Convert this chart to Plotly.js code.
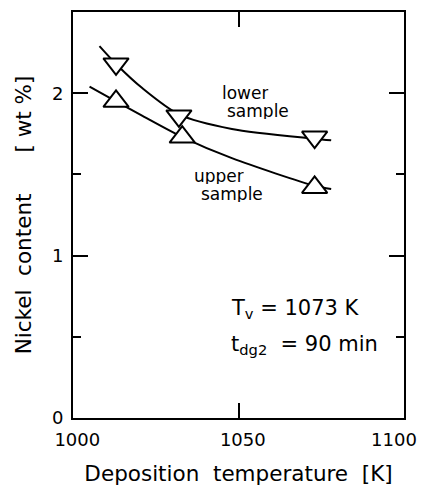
<!DOCTYPE html>
<html>
<head>
<meta charset="utf-8">
<script src="https://cdn.plot.ly/plotly-3.0.1.min.js"></script>
<style>html,body{margin:0;padding:0;background:#fff;}#chart{width:424px;height:486px;}</style>
</head>
<body>
<div id="chart"></div>
<script>
// Measured points
const lowerX = [1013, 1032, 1073];
const lowerY = [2.18, 1.86, 1.73];
const upperX = [1013, 1033, 1073];
const upperY = [1.95, 1.73, 1.42];
// Drawn fitted curves
const lowerCurveX = [1008, 1013, 1021, 1032, 1048, 1073, 1078];
const lowerCurveY = [2.29, 2.18, 2.03, 1.87, 1.78, 1.72, 1.71];
const upperCurveX = [1005, 1013, 1021, 1033, 1048, 1073, 1078];
const upperCurveY = [2.04, 1.95, 1.86, 1.73, 1.60, 1.43, 1.41];
const xTicks = [1000, 1050, 1100];
const xTickText = ['\u00a0\u00a0\u00a0\u00a0\u00a01000', '\u00a0\u00a0\u00a0\u00a0\u00a01050', '1100'];
const yTicks = [0, 1, 2];
const yTickText = ['0', '1', '2'];

const FONT = 'DejaVu Sans';
const NB = '\u00a0';
const lineStyle = {color: 'black', width: 2, shape: 'spline', smoothing: 0.8};
const traces = [
  {x: lowerCurveX, y: lowerCurveY, mode: 'lines', line: lineStyle, hoverinfo: 'skip'},
  {x: upperCurveX, y: upperCurveY, mode: 'lines', line: lineStyle, hoverinfo: 'skip'},
  {x: lowerX, y: lowerY, mode: 'markers', name: 'lower sample',
   marker: {symbol: 'triangle-down', size: 22, color: 'white', line: {color: 'black', width: 2}}},
  {x: upperX, y: upperY, mode: 'markers', name: 'upper sample',
   marker: {symbol: 'triangle-up', size: 22, color: 'white', line: {color: 'black', width: 2}}}
];

const axisCommon = {
  showline: true, linecolor: 'black', linewidth: 2, mirror: 'ticks',
  ticks: 'inside', ticklen: 15, tickwidth: 2, tickcolor: 'black',
  showgrid: false, zeroline: false, ticklabeloverflow: 'allow',
  tickfont: {family: FONT, size: 18, color: 'black'}
};

const layout = {
  width: 424, height: 486,
  margin: {l: 73, r: 20, t: 12, b: 68},
  paper_bgcolor: 'white', plot_bgcolor: 'white',
  showlegend: false,
  xaxis: Object.assign({}, axisCommon, {
    range: [1000, 1100], tickvals: xTicks, ticktext: xTickText,
    ticklabelstandoff: 4, ticklabelshift: -10,
    title: {text: 'Deposition' + NB + NB + 'temperature' + NB + NB + '[K]', font: {family: FONT, size: 21.5, color: 'black'}, standoff: 18}
  }),
  yaxis: Object.assign({}, axisCommon, {
    range: [0, 2.5], tickvals: yTicks, ticktext: yTickText,
    ticklabelstandoff: 4,
    minor: {dtick: 0.5, ticks: 'inside', ticklen: 8, tickwidth: 2, tickcolor: 'black', showgrid: false},
    title: {text: 'Nickel' + NB + NB + 'content' + NB + NB + NB + NB + NB + NB + '[' + NB + 'wt' + NB + '%]' + NB + NB + NB + NB, font: {family: FONT, size: 21.5, color: 'black'}, standoff: 14}
  }),
  annotations: [
    {x: 1052, y: 2.00, xref: 'x', yref: 'y', height: 16, text: 'lower', showarrow: false, font: {family: FONT, size: 17, color: 'black'}},
    {x: 1056, y: 1.89, xref: 'x', yref: 'y', height: 16, text: 'sample', showarrow: false, font: {family: FONT, size: 17, color: 'black'}},
    {x: 1044, y: 1.49, xref: 'x', yref: 'y', height: 16, text: 'upper', showarrow: false, font: {family: FONT, size: 17, color: 'black'}},
    {x: 1048, y: 1.38, xref: 'x', yref: 'y', height: 16, text: 'sample', showarrow: false, font: {family: FONT, size: 17, color: 'black'}},
    {x: 1047, y: 0.67, xref: 'x', yref: 'y', xanchor: 'left', text: 'T<sub>v</sub> = 1073 K', showarrow: false, font: {family: FONT, size: 21, color: 'black'}},
    {x: 1047, y: 0.45, xref: 'x', yref: 'y', xanchor: 'left', text: 't<sub>dg2</sub>' + NB + ' = 90 min', showarrow: false, font: {family: FONT, size: 21, color: 'black'}}
  ]
};

Plotly.newPlot('chart', traces, layout, {staticPlot: true, displayModeBar: false});
</script>
</body>
</html>
